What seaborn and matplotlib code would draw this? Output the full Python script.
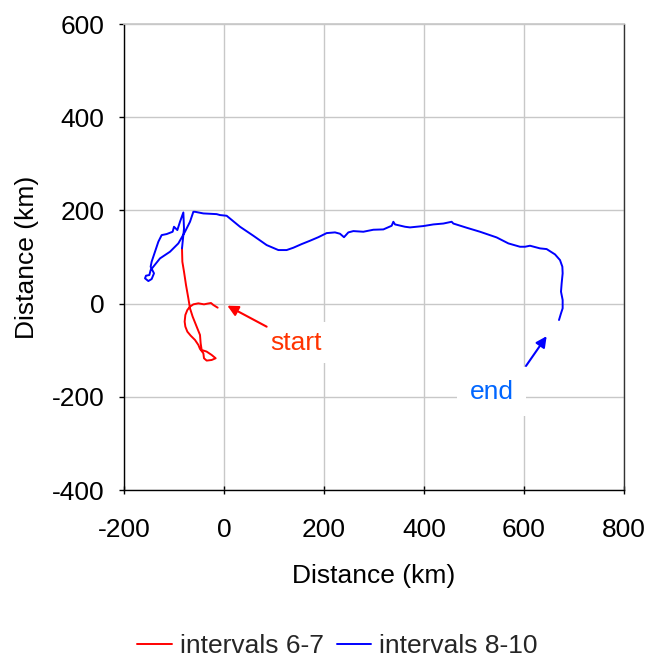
import matplotlib
matplotlib.use("Agg")
import matplotlib.pyplot as plt
import seaborn as sns
import pandas as pd

# Track positions (km), listed in the order they were travelled
red_x = [-12.7, -21.3, -26, -33.3, -40, -51.3, -61.3, -68, -73.3, -77.3, -78.7, -77.3,
         -73.3, -66.7, -58, -51.3, -48, -41.3, -40, -34.7, -24.7, -16.7, -24.7, -34.7,
         -44.7, -46.7, -48, -54.7, -62.7, -68, -71.3, -76, -80, -83.3, -84]
red_y = [-8.7, -3, 1.3, -0.1, -1.6, 0.6, -1.6, -6.6, -13.7, -24.4, -38.7, -49.4,
         -60.2, -68.7, -78, -88.7, -97.3, -106.6, -117.3, -122.3, -121, -117.3, -110.2, -103,
         -99.5, -85.2, -67.3, -49.4, -28, -10.1, 11.3, 39.9, 68.5, 89.9, 118.5]

blue_x = [-84, -80, -81.3, -88, -93.3, -100, -102.7, -114.7, -124.7, -131.3, -138, -144.7,
          -146.7, -140, -144.7, -151.3, -158, -156, -149.3, -146.7, -128, -108, -91.3, -78,
          -68, -61.3, -58, -41.3, -14.7, -8, 5.3, 32, 58.7, 85.3, 108.7, 125.3, 138.7, 155.3,
          172, 188.7, 205.3, 222, 232, 240, 248.7, 258.7, 278.7, 298.7, 318.7, 335.3, 338.7,
          342, 362, 372, 398.7, 418.7, 438.7, 455.3, 458.7, 485.3, 512, 545.3, 568.7, 592,
          602, 612, 632, 645.3, 662, 672, 676.7, 677.3, 675.3, 674, 677.3, 677.3, 674, 670]
blue_y = [118.5, 161, 195.6, 175.6, 157.8, 164.9, 154.2, 149.2, 147, 132.8, 111.3, 89.9,
          79.2, 64.9, 52.7, 48.4, 54.2, 59.9, 61.3, 72, 97, 111.3, 129.2, 154.2,
          175.6, 197, 197, 193.5, 192, 190, 188.5, 164.9, 145.6, 125.6, 114.9, 114.9, 119.9, 127.7,
          134.9, 142.5, 151.3, 152.8, 149.9, 142.5, 152.8, 155.6, 154.2, 158.5, 159.2, 167, 175.6,
          169.9, 164.9, 163.5, 166.4, 169.9, 171.8, 175.6, 171.8, 162.8, 154.2, 142, 129.2, 122,
          122, 124.2, 118.5, 117, 105.6, 93.4, 79.2, 64.9, 43.4, 25.6, 7.7, -10.1, -20.9, -35.2]

series_names = ["intervals 6-7", "intervals 8-10"]
x_ticks = [-200, 0, 200, 400, 600, 800]
y_ticks = [-400, -200, 0, 200, 400, 600]

df = pd.concat([
    pd.DataFrame({"x": red_x, "y": red_y, "series": series_names[0],
                  "order": range(len(red_x))}),
    pd.DataFrame({"x": blue_x, "y": blue_y, "series": series_names[1],
                  "order": range(len(blue_x))}),
], ignore_index=True)

sns.set_theme(style="white")
plt.rcParams["font.family"] = ["Liberation Sans", "DejaVu Sans"]

FS = 19

fig = plt.figure(figsize=(6.49, 6.58), dpi=100)
ax = fig.add_axes([124 / 649, 1 - 490 / 658, 500 / 649, 466 / 658])

sns.lineplot(data=df, x="x", y="y", hue="series", sort=False, estimator=None,
             palette={series_names[0]: "#ff0000", series_names[1]: "#0000ff"},
             linewidth=1.4, ax=ax, legend=False, zorder=3)

ax.set_xlim(-200, 800)
ax.set_ylim(-400, 600)
ax.set_xticks(x_ticks)
ax.set_yticks(y_ticks)
ax.set_xticklabels([str(v) for v in x_ticks])
ax.set_yticklabels([str(v) for v in y_ticks])
ax.grid(True, color="#c8c8c8", linewidth=1.0, zorder=0)
ax.set_axisbelow(True)

for side in ["left", "bottom"]:
    ax.spines[side].set_color("#000000")
    ax.spines[side].set_linewidth(1.0)
ax.spines["right"].set_color("#333333")
ax.spines["right"].set_linewidth(1.0)
ax.spines["top"].set_color("#c8c8c8")

ax.tick_params(axis="x", direction="inout", length=6, width=1, colors="black",
               labelsize=FS, pad=17, bottom=True)
ax.tick_params(axis="y", direction="out", length=3.5, width=1, colors="black",
               labelsize=FS, pad=10.5, left=True)

ax.set_xlabel("Distance (km)", fontsize=FS, labelpad=16, color="black")
ax.set_ylabel("Distance (km)", fontsize=FS, labelpad=9, color="black")

# Start / end markers
ax.annotate("", xy=(6.7, -4.5), xytext=(85.3, -49.5),
            arrowprops=dict(arrowstyle="-|>", color="#ff0000", lw=1.5, mutation_scale=16,
                            shrinkA=0, shrinkB=0), zorder=5)
ax.text(145, -84, "start", color="#ff3300", fontsize=FS, ha="center", va="center",
        bbox=dict(facecolor="white", edgecolor="none", pad=6), zorder=4)

ax.annotate("", xy=(645.3, -69.9), xytext=(604, -133.8),
            arrowprops=dict(arrowstyle="-|>", color="#0000ff", lw=1.5, mutation_scale=16,
                            shrinkA=0, shrinkB=0), zorder=5)
ax.text(535, -189, "end", color="#0066ff", fontsize=FS, ha="center", va="center",
        bbox=dict(facecolor="white", edgecolor="none", pad=9), zorder=4)

handles = [plt.Line2D([], [], color="#ff0000", lw=1.4),
           plt.Line2D([], [], color="#0000ff", lw=1.4)]
fig.legend(handles, series_names, loc="center", bbox_to_anchor=(0.52, 1 - 646 / 658),
           ncol=2, frameon=False, fontsize=FS, handlelength=1.3, handletextpad=0.3,
           columnspacing=0.5, borderpad=0.1)

fig.savefig("out.png", dpi=100, facecolor="white")
